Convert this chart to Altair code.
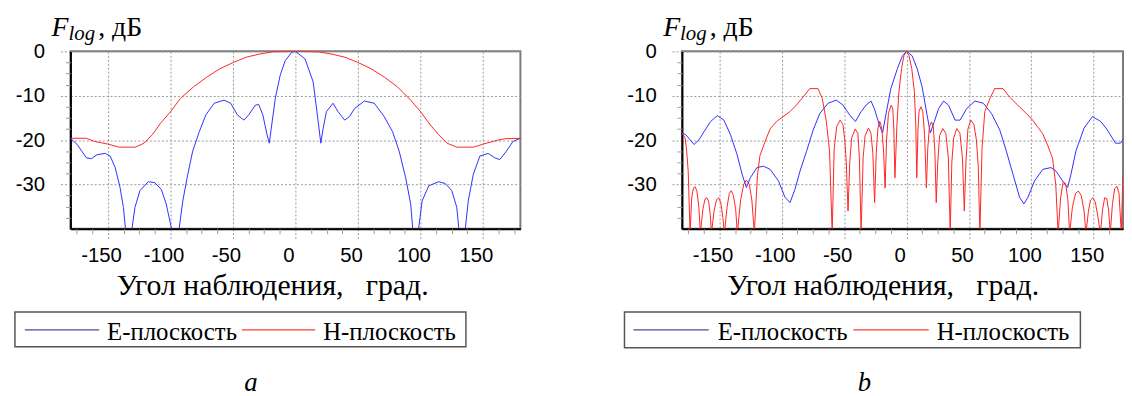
import altair as alt
import pandas as pd

# ---------------- data ----------------
# Panel a, E-plane
a_e_deg = [-180, -174.6, -167.3, -163.2, -158.7, -152.1, -148.2, -144.2, -140.3, -137.6,
           -135.8, -131.0, -128.4, -124.4, -117.8, -112.6, -107.3, -103.4, -99.4, -98.1,
           -93.3, -90.1, -86.1, -82.2, -76.9, -71.6, -65.0, -57.1, -51.8, -46.5,
           -41.2, -37.3, -32.0, -29.3, -26.1, -22.7, -20.9, -19.3, -16.1, -12.2,
           -8.2, -2.9, 0, 7.7, 14.2, 18.2, 20.3, 22.2, 24.8, 30.1,
           34.1, 39.4, 43.3, 47.3, 55.2, 63.1, 71.0, 77.7, 83.0, 88.2,
           92.2, 94.0, 98.3, 101.4, 106.7, 114.6, 119.9, 125.1, 129.1, 130.9,
           135.7, 138.3, 142.3, 147.6, 154.2, 159.5, 163.5, 168.8, 174.1, 180]
a_e_db = [-19.6, -21.0, -24.0, -24.2, -23.3, -23.0, -23.6, -26.2, -30.7, -35.2,
          -40.5, -40.5, -35.2, -31.4, -29.4, -29.6, -31.1, -34.4, -39.6, -40.5,
          -40.5, -33.7, -27.7, -22.5, -18.1, -14.3, -11.7, -11.0, -11.7, -14.3,
          -15.5, -14.3, -12.1, -12.0, -14.3, -18.8, -20.7, -17.3, -10.6, -5.4,
          -2.1, -0.2, 0, -1.7, -6.9, -15.8, -20.7, -17.3, -13.6, -11.7,
          -13.6, -15.5, -14.7, -12.9, -11.2, -11.7, -14.7, -18.1, -22.5, -28.5,
          -34.4, -40.5, -40.5, -33.7, -30.3, -29.4, -29.8, -31.4, -35.2, -40.5,
          -40.5, -33.7, -27.7, -23.6, -23.0, -24.0, -24.4, -22.5, -20.3, -19.6]

# Panel a, H-plane
a_h_deg = [-180, -167.3, -160.7, -150.2, -140.9, -128, -121.1, -114.5, -107.9, -99.9,
           -92.0, -81.5, -70.9, -60.3, -49.7, -39.2, -28.6, -18.1, 0,
           18.2, 28.8, 39.4, 50.0, 60.5, 71.1, 81.6, 92.2, 100.1, 108.0,
           114.6, 121.3, 129.2, 142.4, 150.4, 160.9, 167.5, 180]
a_h_db = [-19.6, -19.6, -20.3, -20.9, -21.6, -21.6, -20.7, -18.8, -16.2, -13.6,
          -10.6, -8.0, -5.8, -3.9, -2.5, -1.3, -0.6, -0.1, 0,
          -0.1, -0.6, -1.3, -2.5, -3.9, -5.8, -8.0, -11.0, -13.6, -16.6,
          -18.8, -20.7, -21.6, -21.6, -20.9, -20.1, -19.7, -19.6]

# Panel b, E-plane
b_e_deg = [-180, -176.9, -170.3, -166.3, -162.3, -157.0, -151.7, -146.4, -141.1, -135.8,
           -131.8, -128.4, -125.2, -119.9, -114.6, -109.3, -102.7, -97.4, -93.4, -89.4,
           -85.4, -80.1, -74.8, -69.5, -62.9, -56.3, -51.0, -45.7, -40.9, -36.4,
           -32.4, -28.5, -25.8, -21.8, -19.2, -16.6, -12.6, -7.3, -3.3, 0,
           4.5, 8.5, 12.5, 16.4, 19.1, 22.3, 25.7, 29.7, 33.6, 38.9,
           42.9, 48.2, 54.8, 61.5, 68.1, 74.7, 80.0, 85.3, 90.6, 94.1,
           97.3, 102.6, 109.2, 115.8, 119.8, 125.1, 129.1, 131.8, 135.7, 142.3,
           149.0, 155.6, 160.9, 167.5, 171.5, 174.2, 180]
b_e_db = [-18.4, -18.8, -21.0, -19.9, -18.1, -15.8, -14.5, -15.5, -18.8, -23.3,
          -27.7, -30.7, -28.5, -26.2, -25.9, -26.6, -29.2, -32.9, -34.1, -31.1,
          -27.0, -22.5, -17.7, -14.0, -11.7, -11.0, -12.1, -14.3, -15.8, -13.6,
          -12.1, -11.2, -12.9, -16.6, -18.4, -14.3, -8.4, -3.9, -1.0, 0,
          -1.0, -3.9, -8.0, -14.3, -18.4, -15.8, -12.9, -11.2, -12.1, -15.5,
          -15.5, -12.9, -11.2, -11.7, -14.0, -17.7, -22.5, -27.7, -32.9, -34.4,
          -32.9, -29.2, -26.6, -26.2, -27.0, -29.2, -30.7, -27.7, -22.5, -17.3,
          -14.7, -15.8, -17.7, -20.7, -20.7, -19.6, -18.4]

# Panel b, H-plane
b_h_deg = [-180, -177.5, -176.2, -175.0, -173.5,
           -172.2, -170.8, -169.5, -168.0, -166.5, -165.2,
           -163.2, -161.5, -160.0, -158.5, -157.3, -156.3,
           -154.3, -152.3, -150.6, -148.8, -147.2, -146.0,
           -143.8, -142.0, -140.5, -138.8, -137.0, -135.6,
           -133.0, -130.5, -128.3, -126.0, -124.0, -122.0,
           -119.5, -117.5, -113.3, -109.4, -104.1, -98.8, -93.5, -88.2, -82.9, -77.6,
           -71.0, -67.5, -64.3, -61.7, -59.6,
           -58.0, -56.0, -53.2, -51.0, -49.5, -48.3, -46.9,
           -45.5, -44.0, -41.1, -39.0, -37.8, -36.4,
           -34.8, -33.2, -30.5, -28.5, -27.0, -25.6,
           -24.3, -23.0, -21.5, -20.0, -18.5, -17.2,
           -16.0, -14.5, -12.3, -11.0, -10.2, -9.3,
           -7.7, -6.1, -4.0, -2.1, 0, 2.0, 4.2, 6.3, 7.4, 8.2,
           9.2, 10.0, 11.5, 13.0, 14.5, 15.9,
           17.0, 18.3, 20.0, 21.5, 22.7, 23.8,
           25.0, 26.5, 29.1, 31.5, 33.5, 35.0,
           36.3, 37.8, 40.3, 42.8, 44.8, 46.3,
           47.6, 49.2, 51.5, 54.0, 56.0, 57.5, 58.8,
           60.5, 62.7, 66.7, 70.7, 77.3, 82.6, 90.5, 96.0, 101.1, 105.0,
           109.0, 113.0, 117.0, 119.6, 121.5,
           123.5, 125.5, 127.5, 129.3, 130.7,
           133.0, 135.5, 137.7, 140.0, 142.3, 143.8,
           145.8, 147.5, 149.3, 151.3, 153.5, 155.4,
           157.2, 158.8, 160.5, 162.0, 163.3,
           165.0, 166.8, 168.6, 170.3, 172.1,
           173.3, 174.2, 176.0, 178.0, 180.0]
b_h_db = [-18.4, -19.5, -22.5, -27.0, -41,
          -33.0, -30.8, -30.5, -31.5, -35.0, -41,
          -35.5, -33.3, -33.0, -34.0, -37.0, -41,
          -36.0, -33.5, -33.0, -34.2, -37.5, -41,
          -35.0, -32.0, -31.4, -32.5, -35.5, -41,
          -33.5, -30.0, -29.0, -30.0, -33.5, -41,
          -28.0, -23.5, -20.3, -17.5, -15.8, -14.7, -13.6, -12.1, -10.3, -8.4,
          -8.4, -10.6, -15.8, -22.5, -41,
          -22.0, -17.0, -15.5, -16.5, -20.0, -25.0, -36.0,
          -25.0, -19.5, -17.5, -18.5, -24.0, -41,
          -24.0, -19.0, -17.3, -18.5, -23.0, -34.1,
          -23.0, -17.5, -15.8, -17.0, -22.0, -30.8,
          -20.0, -14.0, -12.1, -13.0, -17.5, -28.5,
          -16.6, -9.1, -3.9, -1.0, 0, -1.0, -3.9, -9.1, -16.6, -28.5,
          -17.5, -13.5, -12.5, -13.5, -19.0, -30.8,
          -22.0, -17.0, -15.9, -17.0, -22.5, -34.1,
          -25.0, -19.0, -17.4, -18.5, -24.0, -41,
          -25.0, -19.5, -17.4, -18.5, -24.0, -36.0,
          -25.0, -17.5, -15.5, -16.5, -20.0, -26.0, -41,
          -22.0, -13.6, -10.7, -8.4, -8.4, -10.3, -12.5, -14.0, -15.5, -17.0,
          -18.5, -21.1, -24.1, -30.0, -41,
          -33.0, -29.5, -29.8, -33.5, -41,
          -35.0, -32.0, -31.5, -32.5, -36.0, -41,
          -36.0, -33.5, -33.0, -34.0, -37.5, -41,
          -35.5, -33.0, -33.2, -36.0, -41,
          -34.5, -31.0, -30.4, -32.0, -41,
          -29.0, -26.3, -22.0, -19.5, -18.4]

series_names = ["Е-плоскость", "Н-плоскость"]
series_colors = ["#3030ff", "#ff2424"]
legend_line_colors = ["#5a4690", "#ff3a3a"]

x_major = [-150, -100, -50, 0, 50, 100, 150]
x_minor = [-175, -162.5, -137.5, -125, -112.5, -87.5, -75, -62.5, -37.5, -25, -12.5,
           12.5, 25, 37.5, 62.5, 75, 87.5, 112.5, 125, 137.5, 162.5, 175]
y_major = [0, -10, -20, -30]
y_minor = [-2.5, -5, -7.5, -12.5, -15, -17.5, -22.5, -25, -27.5, -32.5, -35, -37.5]

x_title = "Угол наблюдения,\u00a0\u00a0\u00a0град."
y_title_parts = ["F", "log", ", дБ"]
panel_letters = ["a", "b"]

SERIF = "Liberation Serif"
SANS = "Liberation Sans"
GRID = "#9a9a9a"
H = 179


def make_df(e_deg, e_db, h_deg, h_db):
    return pd.DataFrame({
        "angle": e_deg + h_deg,
        "level": e_db + h_db,
        "series": [series_names[0]] * len(e_deg) + [series_names[1]] * len(h_deg),
    })


def one_row():
    return alt.Chart(pd.DataFrame({"k": [0]}))


def panel(df, width, xmax, letter, leg):
    xscale = alt.Scale(domain=[-180, xmax], nice=False, zero=False)
    yscale = alt.Scale(domain=[-40, 0], nice=False, zero=False)
    minor_x = [v for v in x_minor if v <= xmax]

    lines = alt.Chart(df).mark_line(clip=True, strokeWidth=1).encode(
        x=alt.X("angle:Q", scale=xscale, axis=alt.Axis(
            values=x_major, title=None, orient="bottom", grid=True,
            gridColor=GRID, gridDash=[2, 2], gridWidth=1,
            tickSize=10, tickColor=GRID, tickDash=[2, 2], tickWidth=1,
            domainColor="#000000", domainWidth=2,
            labelFont=SANS, labelFontSize=20.5, labelColor="#000000",
            labelPadding=7, labelOffset=-7, labelFlush=False, labelOverlap=False,
            labelExpr="'' + datum.value")),
        y=alt.Y("level:Q", scale=yscale, axis=alt.Axis(
            values=y_major, title=None, orient="left", grid=True,
            gridColor=GRID, gridDash=[2, 2], gridWidth=1,
            tickSize=10, tickColor=GRID, tickDash=[2, 2], tickWidth=1,
            domainColor="#000000", domainWidth=2,
            labelFont=SANS, labelFontSize=20.5, labelColor="#000000",
            labelPadding=16, labelFlush=False, labelOverlap=False,
            labelExpr="'' + datum.value")),
        color=alt.Color("series:N", scale=alt.Scale(domain=series_names, range=series_colors),
                        legend=None),
    )

    minor = alt.Chart(df).mark_line(clip=True, opacity=0).encode(
        x=alt.X("angle:Q", scale=xscale, axis=alt.Axis(
            values=minor_x, title=None, orient="bottom", labels=False, grid=False,
            domain=False, tickSize=5, tickColor=GRID, tickWidth=1)),
        y=alt.Y("level:Q", scale=yscale, axis=alt.Axis(
            values=y_minor, title=None, orient="left", labels=False, grid=False,
            domain=False, tickSize=5, tickColor=GRID, tickWidth=1)),
        detail="series:N",
    )

    box = one_row().mark_rect(fill="white", stroke="#555555", strokeWidth=1.5).encode(
        x=alt.value(leg["box"][0]), x2=alt.value(leg["box"][1]),
        y=alt.value(263), y2=alt.value(leg["box"][2]))

    items = []
    for i in range(2):
        items.append(one_row().mark_rule(strokeWidth=1.2).encode(
            x=alt.value(leg["line"][i][0]), x2=alt.value(leg["line"][i][1]),
            y=alt.value(281), color=alt.value(legend_line_colors[i])))
        items.append(one_row().mark_text(
            align="left", baseline="alphabetic", font=SERIF, fontSize=25, color="#000000"
        ).encode(x=alt.value(leg["text"][i]), y=alt.value(291),
                 text=alt.value(series_names[i])))

    f1 = one_row().mark_text(align="left", baseline="alphabetic", font=SERIF,
                             fontStyle="italic", fontSize=28, color="#000000").encode(
        x=alt.value(-19), y=alt.value(-16), text=alt.value(y_title_parts[0]))
    f2 = one_row().mark_text(align="left", baseline="alphabetic", font=SERIF,
                             fontStyle="italic", fontSize=21, color="#000000").encode(
        x=alt.value(-2), y=alt.value(-11), text=alt.value(y_title_parts[1]))
    f3 = one_row().mark_text(align="left", baseline="alphabetic", font=SERIF,
                             fontSize=28, color="#000000").encode(
        x=alt.value(28), y=alt.value(-16), text=alt.value(y_title_parts[2]))

    xt = one_row().mark_text(align="center", baseline="alphabetic", font=SERIF,
                             fontSize=30, color="#000000").encode(
        x=alt.value(leg["xt"]), y=alt.value(246), text=alt.value(x_title))

    lt = one_row().mark_text(align="center", baseline="alphabetic", font=SERIF,
                             fontStyle="italic", fontSize=27, color="#000000").encode(
        x=alt.value(leg["letter"]), y=alt.value(343), text=alt.value(letter))

    return alt.layer(lines, minor, box, *items, f1, f2, f3, xt, lt).resolve_axis(
        x="independent", y="independent").properties(width=width, height=H)


df_a = make_df(a_e_deg, a_e_db, a_h_deg, a_h_db)
df_b = make_df(b_e_deg, b_e_db, b_h_deg, b_h_db)

leg_a = {"box": (-56, 399, 298), "line": [(-46, 29), (173, 247)], "text": [37, 255],
         "xt": 204, "letter": 182}
leg_b = {"box": (-58, 402, 299), "line": [(-49, 27), (173, 249)], "text": [36, 257],
         "xt": 203, "letter": 184}

pa = panel(df_a, 454, 180, panel_letters[0], leg_a)
pb = panel(df_b, 445, 173.5, panel_letters[1], leg_b)

chart = alt.hconcat(pa, pb, spacing=163, bounds="flush").properties(
    padding={"left": 5, "top": 3, "right": 0, "bottom": 0}
).configure_view(stroke="#7a7a7a", strokeWidth=2)

chart.save("out.html", embed_options={"renderer": "svg", "actions": False})
